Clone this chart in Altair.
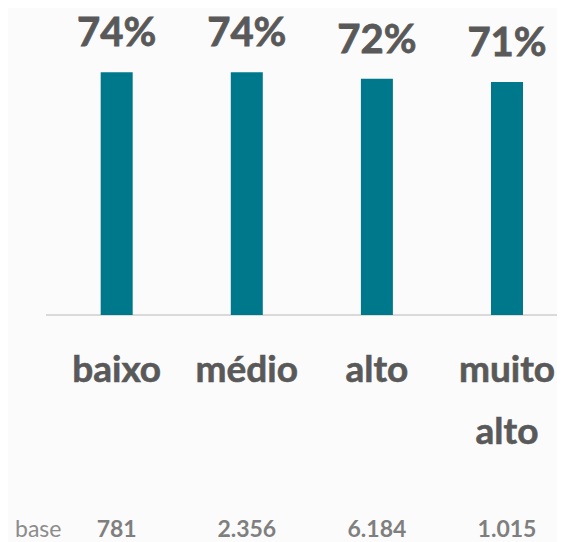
import altair as alt
import pandas as pd

categories = ["baixo", "médio", "alto", "muito\nalto"]
values = [0.74, 0.74, 0.72, 0.71]
value_labels = ["74%", "74%", "72%", "71%"]
bases = ["781", "2.356", "6.184", "1.015"]
base_word = ["base"]
positions = [0, 1, 2, 3]

df = pd.DataFrame({
    "pos": positions,
    "cat": categories,
    "value": values,
    "label": value_labels,
    "base": bases,
})
df_word = pd.DataFrame({"t": base_word})

W = 511
H = 262.4
STEP = 132.7
FONT = "Lato"
TEXT = "#595959"
BAR = "#00788C"

xscale = alt.Scale(domain=[-67 / STEP, (W - 67) / STEP], nice=False, zero=False)
yscale = alt.Scale(domain=[0, 0.8], nice=False)

x = alt.X("pos:Q", scale=xscale, axis=None)
y = alt.Y("value:Q", scale=yscale, axis=None)

base = alt.Chart(df)

rule = alt.Chart(df_word).mark_rule(color="#d9d9d9", strokeWidth=2).encode(
    y=alt.value(H), x=alt.value(0), x2=alt.value(W)
)

bars = base.mark_bar(size=32, color=BAR).encode(x=x, y=y)

pct = base.mark_text(
    dy=-26, baseline="alphabetic", align="center", fontSize=40,
    fontWeight="bold", font=FONT, color=TEXT, stroke=TEXT, strokeWidth=0.8
).encode(x=x, y=y, text="label:N")

cats = base.mark_text(
    baseline="alphabetic", align="center", fontSize=37, fontWeight="bold",
    font=FONT, color=TEXT, lineBreak="\n", lineHeight=62,
    stroke=TEXT, strokeWidth=0.6
).encode(x=x, y=alt.value(329.4), text="cat:N")

basenums = base.mark_text(
    baseline="alphabetic", align="center", fontSize=23, fontWeight="bold",
    font=FONT, color="#7f7f7f"
).encode(x=x, y=alt.value(484.4), text="base:N")

word = alt.Chart(df_word).mark_text(
    baseline="alphabetic", align="left", fontSize=23, font=FONT, color="#8c8c8c"
).encode(x=alt.value(-31), y=alt.value(484.4), text="t:N")

chart = alt.layer(rule, bars, pct, cats, basenums, word).properties(
    width=W,
    height=H,
    autosize=alt.AutoSizeParams(type="none"),
    padding={"left": 38, "top": 44.6, "right": 0, "bottom": 227},
    background="#fbfbfb",
).configure_view(stroke=None)

chart.save("out.html", embed_options={"renderer": "svg", "actions": False})
